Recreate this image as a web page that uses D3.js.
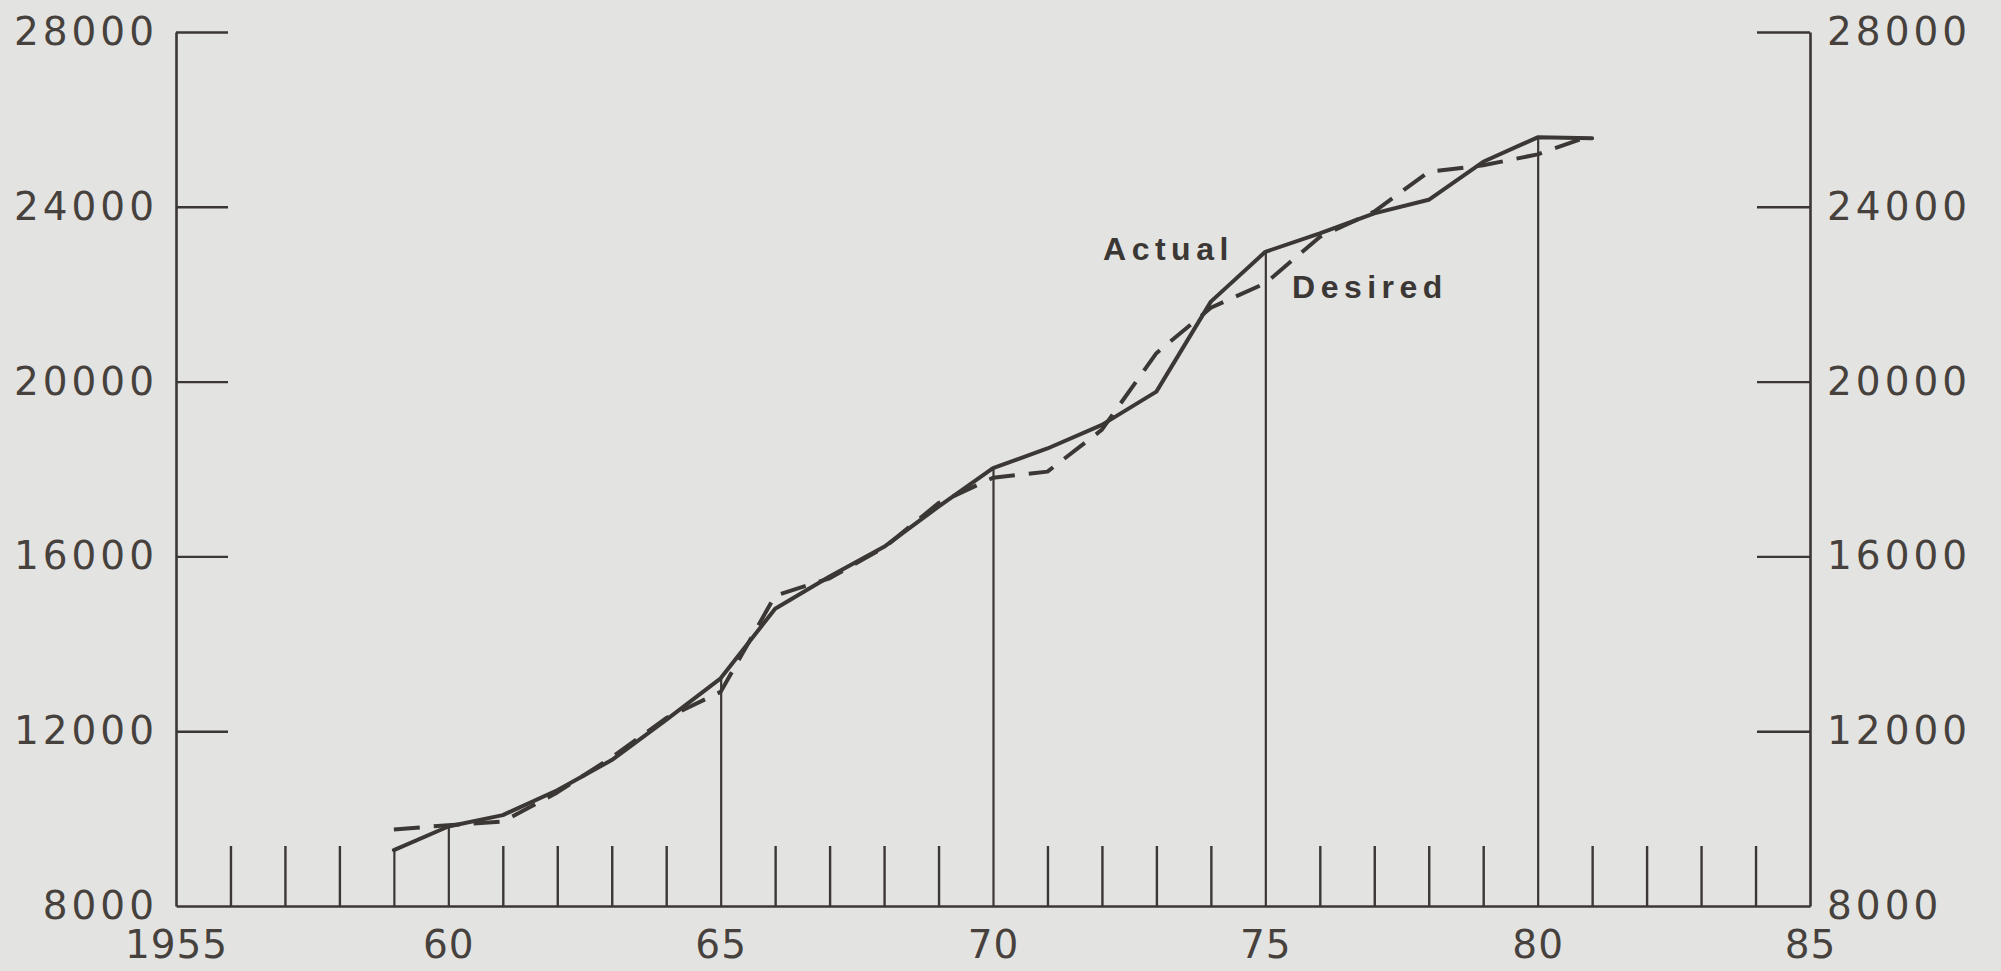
<!DOCTYPE html>
<html>
<head>
<meta charset="utf-8">
<script src="https://cdn.jsdelivr.net/npm/d3@7"></script>
<style>
  html, body { margin: 0; padding: 0; background: #e3e3e1; }
  svg { display: block; }
</style>
</head>
<body>
<svg id="chart" width="2001" height="971"></svg>
<script>
// Average inventory stocks, actual vs. desired, 1959-1981
const years   = [1959, 1960, 1961, 1962, 1963, 1964, 1965, 1966, 1967, 1968, 1969, 1970,
                 1971, 1972, 1973, 1974, 1975, 1976, 1977, 1978, 1979, 1980, 1981];
const actual  = [9280, 9820, 10080, 10650, 11340, 12260, 13210, 14800, 15540, 16220, 17140, 18020,
                 18470, 19010, 19770, 21830, 22970, 23390, 23850, 24160, 25030, 25590, 25570];
const desired = [9750, 9850, 9930, 10600, 11400, 12300, 12900, 15100, 15500, 16200, 17220, 17800,
                 17940, 18900, 20650, 21690, 22250, 23310, 23890, 24800, 24950, 25200, 25640];

const yTickValues = [8000, 12000, 16000, 20000, 24000, 28000];
const xTickValues = d3.range(1955, 1986);
const xLabelYears = [1955, 1960, 1965, 1970, 1975, 1980, 1985];
const dropYears   = [1959, 1960, 1965, 1970, 1975, 1980];
const seriesNames = ["Actual", "Desired"];

const ink = "#3b3734";
const svg = d3.select("#chart");

const x = d3.scaleLinear().domain([1955, 1985]).range([176, 1810]);
const y = d3.scaleLinear().domain([8000, 28000]).range([906, 32]);

const actualByYear = new Map(years.map((yr, i) => [yr, actual[i]]));

function styleAxis(spacing) {
  return g => {
    g.select(".domain").attr("stroke", ink).attr("stroke-width", 2.6);
    g.selectAll(".tick line").attr("stroke", ink).attr("stroke-width", 2.4);
    g.selectAll(".tick text")
      .attr("fill", "#46413d")
      .style("font-family", "'DejaVu Sans', sans-serif")
      .style("font-size", "39px")
      .style("letter-spacing", spacing);
  };
}

// Left value axis, ticks pointing into the plot
svg.append("g")
  .attr("transform", `translate(${x(1955)},0)`)
  .call(d3.axisLeft(y).tickValues(yTickValues).tickSizeInner(-52).tickSizeOuter(0)
        .tickPadding(18).tickFormat(d3.format("d")))
  .call(styleAxis("4px"))
  .call(g => g.selectAll(".tick").filter(d => d === 8000).select("line").remove());

// Right value axis, mirrored
svg.append("g")
  .attr("transform", `translate(${x(1985)},0)`)
  .call(d3.axisRight(y).tickValues(yTickValues).tickSizeInner(-53).tickSizeOuter(0)
        .tickPadding(17).tickFormat(d3.format("d")))
  .call(styleAxis("4px"))
  .call(g => g.selectAll(".tick").filter(d => d === 8000).select("line").remove());

// Year axis: a short tick every year, labels every five years
svg.append("g")
  .attr("transform", `translate(0,${y(8000)})`)
  .call(d3.axisBottom(x).tickValues(xTickValues).tickSizeInner(-60).tickSizeOuter(0)
        .tickPadding(24)
        .tickFormat(d => xLabelYears.includes(d) ? (d === 1955 ? "1955" : String(d % 100)) : ""))
  .call(styleAxis("1px"))
  .call(g => g.selectAll(".tick").filter(d => d === 1955 || d === 1985).select("line").remove())
  // drop lines: ticks at these years run up to the actual series
  .call(g => g.selectAll(".tick").filter(d => dropYears.includes(d)).select("line")
        .attr("stroke-width", 2.2)
        .attr("y2", d => y(actualByYear.get(d)) - y(8000)));

const line = d3.line().x(d => x(d[0])).y(d => y(d[1]));

// Desired series (dashed)
svg.append("path")
  .datum(years.map((yr, i) => [yr, desired[i]]))
  .attr("d", line)
  .attr("fill", "none")
  .attr("stroke", ink)
  .attr("stroke-width", 4)
  .attr("stroke-dasharray", "26,14")
  .attr("stroke-linecap", "butt")
  .attr("stroke-linejoin", "round");

// Actual series (solid)
svg.append("path")
  .datum(years.map((yr, i) => [yr, actual[i]]))
  .attr("d", line)
  .attr("fill", "none")
  .attr("stroke", ink)
  .attr("stroke-width", 4)
  .attr("stroke-linejoin", "round")
  .attr("stroke-linecap", "round");

// Series labels placed beside the curves
const labelAnchors = [[1972.02, 22780], [1975.49, 21910]];
svg.selectAll("text.series-label")
  .data(seriesNames)
  .join("text")
  .attr("class", "series-label")
  .attr("x", (d, i) => x(labelAnchors[i][0]))
  .attr("y", (d, i) => y(labelAnchors[i][1]))
  .attr("fill", ink)
  .style("font-family", "'Liberation Sans', Arial, sans-serif")
  .style("font-weight", "bold")
  .style("font-size", "32px")
  .style("letter-spacing", "5.5px")
  .text(d => d);
</script>
</body>
</html>
